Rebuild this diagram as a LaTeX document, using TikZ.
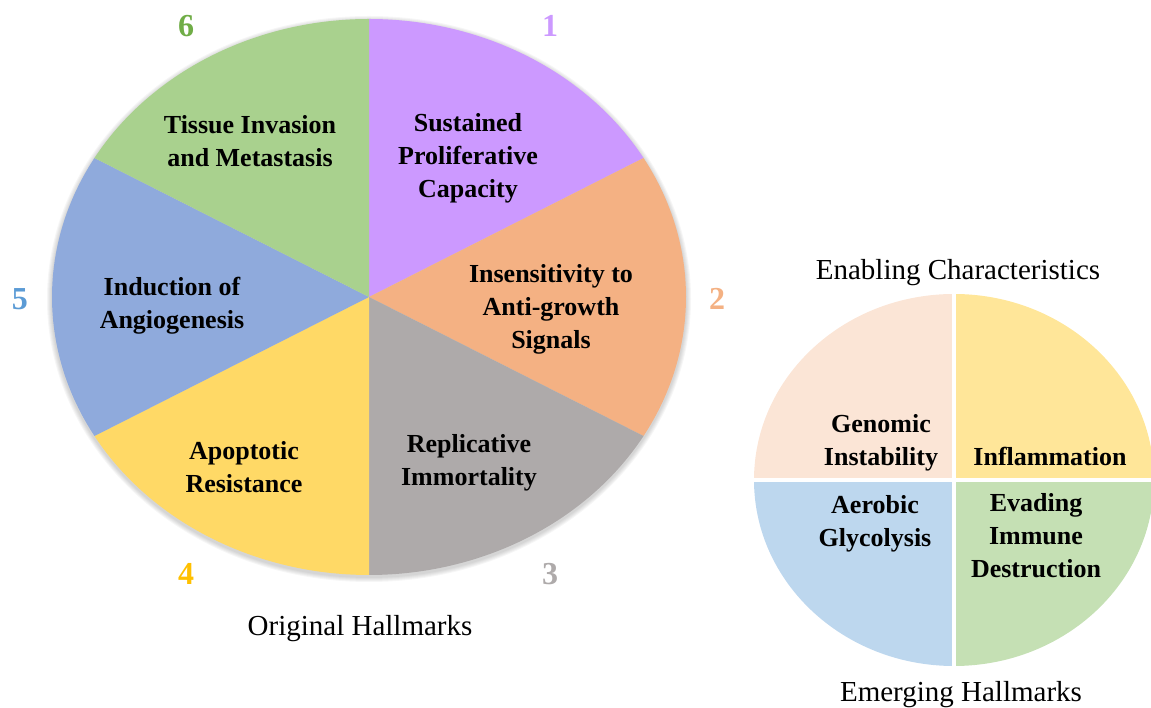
\documentclass[tikz,border=0pt]{standalone}
\usepackage{fontspec}
\setmainfont{Liberation Serif}
\usetikzlibrary{calc}
\definecolor{cA}{HTML}{CC99FF}
\definecolor{cB}{HTML}{F4B183}
\definecolor{cC}{HTML}{AEAAAA}
\definecolor{cD}{HTML}{FFD966}
\definecolor{cE}{HTML}{8FAADC}
\definecolor{cF}{HTML}{A9D18E}
\definecolor{nA}{HTML}{CC99FF}
\definecolor{nB}{HTML}{F4B183}
\definecolor{nC}{HTML}{AEAAAA}
\definecolor{nD}{HTML}{FFC000}
\definecolor{nE}{HTML}{5B9BD5}
\definecolor{nF}{HTML}{70AD47}
\definecolor{qA}{HTML}{FBE5D6}
\definecolor{qB}{HTML}{FFE699}
\definecolor{qC}{HTML}{BDD7EE}
\definecolor{qD}{HTML}{C5E0B4}
\begin{document}
\begin{tikzpicture}[x=1pt,y=1pt,
  lbl/.style={align=center,inner sep=0pt,font=\fontsize{26}{33}\selectfont\bfseries},
  num/.style={inner sep=0pt,font=\fontsize{32}{32}\selectfont\bfseries},
  captext/.style={inner sep=0pt,font=\fontsize{29}{33}\selectfont},
  elA/.style={x radius=317pt,y radius=278pt},
  elB/.style={x radius=200pt,y radius=186pt}]
\useasboundingbox (0,0) rectangle (1151,708);
% soft shadow
\foreach \i in {1,...,5}{
  \fill[black,opacity=0.035] (369,409) ellipse[x radius={317pt+\i pt}, y radius={278pt+\i pt}];
}
% left ellipse sectors
\coordinate (C) at (369,411);
\fill[cA] (C) -- ++(90:317pt and 278pt) arc[start angle=90,end angle=30,elA] -- cycle;
\fill[cB] (C) -- ++(30:317pt and 278pt) arc[start angle=30,end angle=-30,elA] -- cycle;
\fill[cC] (C) -- ++(-30:317pt and 278pt) arc[start angle=-30,end angle=-90,elA] -- cycle;
\fill[cD] (C) -- ++(270:317pt and 278pt) arc[start angle=270,end angle=210,elA] -- cycle;
\fill[cE] (C) -- ++(210:317pt and 278pt) arc[start angle=210,end angle=150,elA] -- cycle;
\fill[cF] (C) -- ++(150:317pt and 278pt) arc[start angle=150,end angle=90,elA] -- cycle;
% labels
\node[lbl] (l6) at (250,567) {Tissue Invasion\\and Metastasis};
\node[lbl] (l1) at (468,550) {Sustained\\Proliferative\\Capacity};
\node[lbl] (l2) at (551,399) {Insensitivity to\\Anti-growth\\Signals};
\node[lbl] (l3) at (469,245) {Replicative\\Immortality};
\node[lbl] (l4) at (244,241) {Apoptotic\\Resistance};
\node[lbl] (l5) at (172,402) {Induction of\\Angiogenesis};
% numbers
\node[num,text=nA] (n1) at (550,682) {1};
\node[num,text=nB] (n2) at (717,409) {2};
\node[num,text=nC] (n3) at (550,134) {3};
\node[num,text=nD] (n4) at (186,134) {4};
\node[num,text=nE] (n5) at (20,409) {5};
\node[num,text=nF] (n6) at (186,682) {6};
\node[captext] (t1) at (360,79) {Original Hallmarks};
% right circle
\coordinate (D) at (954,228);
\fill[qA] (D) -- ++(180:200pt and 186pt) arc[start angle=180,end angle=90,elB] -- cycle;
\fill[qB] (D) -- ++(90:200pt and 186pt) arc[start angle=90,end angle=0,elB] -- cycle;
\fill[qC] (D) -- ++(180:200pt and 186pt) arc[start angle=180,end angle=270,elB] -- cycle;
\fill[qD] (D) -- ++(270:200pt and 186pt) arc[start angle=270,end angle=360,elB] -- cycle;
\draw[white,line width=4pt] ($(D)+(0,-190)$) -- ($(D)+(0,190)$);
\draw[white,line width=3.5pt] ($(D)+(-205,0)$) -- ($(D)+(205,0)$);
\node[lbl] (r1) at (881,265) {Genomic\\Instability};
\node[lbl] (r2) at (1050,252) {Inflammation};
\node[lbl] (r3) at (875,184) {Aerobic\\Glycolysis};
\node[lbl] (r4) at (1036,172) {Evading\\Immune\\Destruction};
\node[captext] (t2) at (958,435) {Enabling Characteristics};
\node[captext] (t3) at (961,13) {Emerging Hallmarks};
\end{tikzpicture}
\end{document}
